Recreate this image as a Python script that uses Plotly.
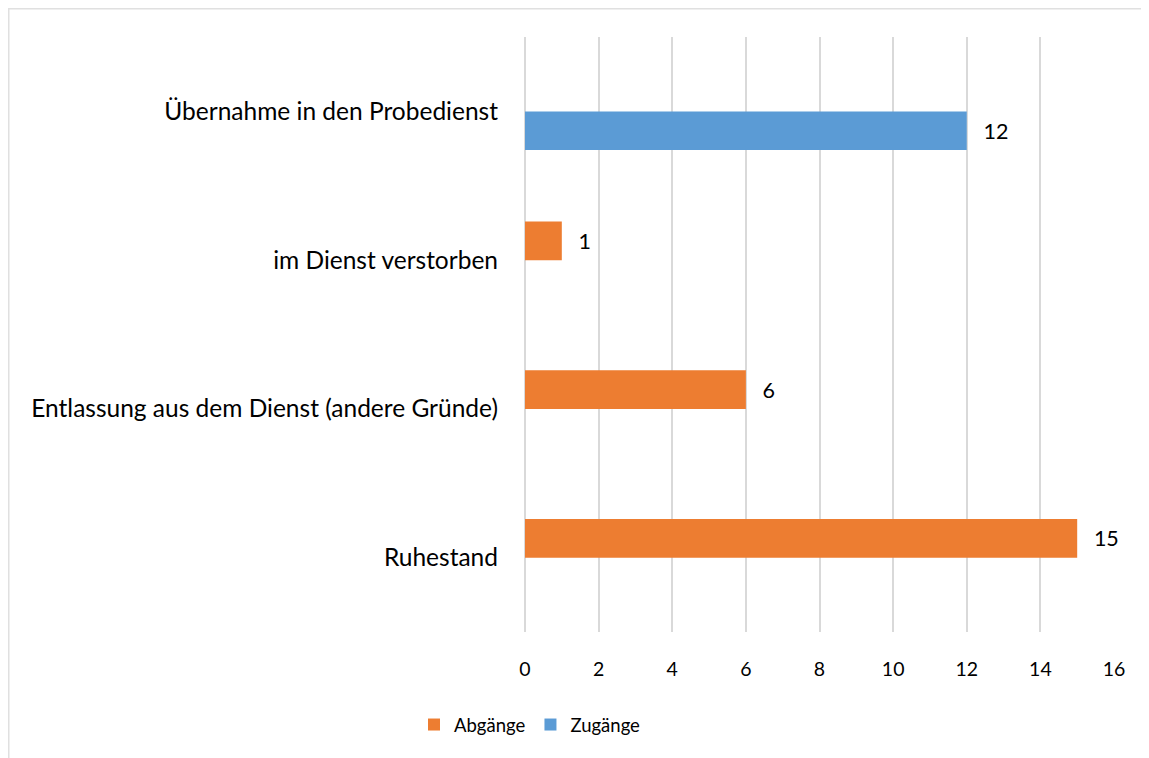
import plotly.graph_objects as go

categories = ["Ruhestand", "Entlassung aus dem Dienst (andere Gründe)",
              "im Dienst verstorben", "Übernahme in den Probedienst"]
abgaenge = [15, 6, 1, None]
zugaenge = [None, None, None, 12]
x_ticks = [0, 2, 4, 6, 8, 10, 12, 14, 16]

FONT = "Lato"
PAD = "\u00a0\u00a0\u2009"


def labels(vals):
    return [("" if v is None else PAD + str(v)) for v in vals]


fig = go.Figure()
fig.add_trace(go.Bar(
    y=categories, x=zugaenge, orientation="h", name="Zugänge",
    marker=dict(color="#5B9BD5", line=dict(width=0)),
    text=labels(zugaenge),
    textposition="outside", cliponaxis=False,
    textfont=dict(family=FONT, size=21.5, color="#000000"),
    legendrank=2,
))
fig.add_trace(go.Bar(
    y=categories, x=abgaenge, orientation="h", name="Abgänge",
    marker=dict(color="#ED7D31", line=dict(width=0)),
    text=labels(abgaenge),
    textposition="outside", cliponaxis=False,
    textfont=dict(family=FONT, size=21.5, color="#000000"),
    legendrank=1,
))

fig.update_layout(
    width=1141, height=750,
    margin=dict(l=517, r=35, t=29, b=126),
    paper_bgcolor="white", plot_bgcolor="white",
    barmode="group", bargap=0.48, bargroupgap=0,
    font=dict(family=FONT, size=20, color="#000000"),
    showlegend=True,
    legend=dict(orientation="h", xref="container", yref="container",
                x=0.4575, xanchor="center", y=0.044, yanchor="middle",
                font=dict(family=FONT, size=18.5, color="#000000"),
                itemwidth=30, tracegroupgap=0),
    xaxis=dict(range=[0, 16], tickvals=x_ticks, showgrid=True,
               gridcolor="#D9D9D9", gridwidth=1.5, zeroline=True,
               zerolinecolor="#D9D9D9", zerolinewidth=1.5, showline=False,
               ticks="", ticklabelstandoff=23,
               tickfont=dict(family=FONT, size=19.5, color="#000000")),
    yaxis=dict(categoryorder="array", categoryarray=categories,
               showgrid=False, showline=False, ticks="",
               ticklabelstandoff=26,
               tickfont=dict(family=FONT, size=24.5, color="#000000")),
    shapes=[dict(type="rect", xref="paper", yref="paper",
                 x0=(0.75 - 517) / 589, x1=1.2,
                 y0=-0.4, y1=1 + (29 - 0.75) / 595,
                 line=dict(color="#E0E0E0", width=1.5), layer="below")],
)

fig.write_html("out.html")
